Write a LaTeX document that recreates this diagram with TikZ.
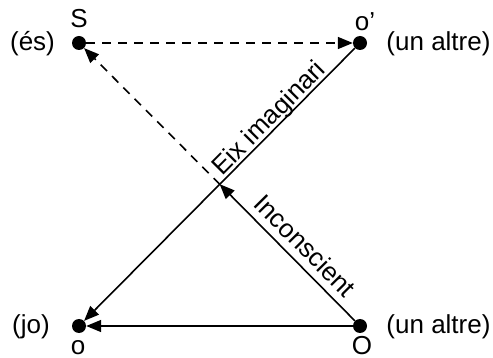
\documentclass[tikz,border=0pt]{standalone}
\usepackage{fontspec}
\setmainfont{Liberation Sans}
\usetikzlibrary{arrows.meta}
\begin{document}
\begin{tikzpicture}[x=1pt,y=-1pt,
  dot/.style={circle,fill=black,inner sep=0pt,minimum size=14pt},
  lbl/.style={inner sep=0pt,font=\fontsize{26}{30}\selectfont},
  conn/.style={line width=1.6pt,-{Triangle[length=15pt,width=12pt]}},
  dconn/.style={conn,dash pattern=on 9pt off 7pt}]
\useasboundingbox (0,0) rectangle (493,358);
\node[dot] (S) at (79,43) {};
\node[dot] (op) at (360,43) {};
\node[dot] (o) at (79,326) {};
\node[dot] (O) at (360,326) {};
\coordinate (X) at (220,184.5);
\node[lbl,anchor=base] (tS) at (79,28) {S};
\node[lbl] (tes) at (32.5,44) {(és)};
\node[lbl,anchor=base] (top) at (365,31) {o’};
\node[lbl] (tu1) at (438.5,44) {(un altre)};
\node[lbl] (tjo) at (31,327) {(jo)};
\node[lbl,anchor=base] (to) at (78,354.5) {o};
\node[lbl,anchor=base] (tO) at (362,354.5) {O};
\node[lbl] (tu2) at (438.5,327) {(un altre)};
\draw[dconn] (S) -- (op);
\draw[conn] (op) -- (o);
\draw[conn] (O) -- (o);
\draw[conn,shorten >=-0.5pt] (O) -- (X);
\draw[dconn] (X) -- (S);
\path (o.center) -- node[lbl,pos=0.705,sloped,above=-2pt] (eix) {Eix imaginari} (op.center);
\path (X) -- node[lbl,pos=0.52,sloped,above=8pt] (inc) {Inconscient} (O.center);
\end{tikzpicture}
\end{document}
